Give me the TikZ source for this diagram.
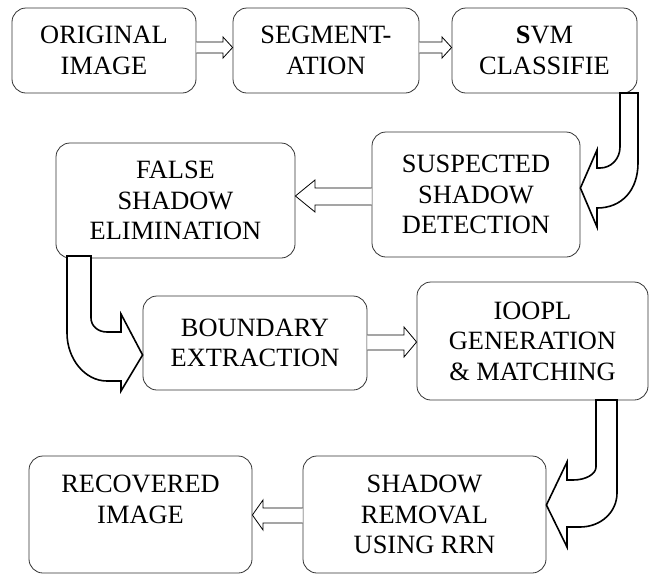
\documentclass[tikz,border=0pt]{standalone}
\usepackage{fontspec}
\setmainfont{Liberation Serif}
\begin{document}
\begin{tikzpicture}[x=1pt,y=-1pt,
  stage/.style={draw=black!80, line width=0.8pt, rounded corners=14pt,
    align=center, inner sep=0pt, font=\fontsize{26.4}{30.5}\selectfont},
  flatarrow/.style={draw=black, line width=0.8pt, fill=white, line join=miter},
  turnarrow/.style={draw=black, line width=1.6pt, fill=white, line join=miter}]
\useasboundingbox (0,0) rectangle (651,574);

% process stages
\node[stage, minimum width=184pt, minimum height=85pt] (orig) at (104,50.5) {ORIGINAL\\IMAGE};
\node[stage, minimum width=186pt, minimum height=85pt] (seg) at (326,50.5) {SEGMENT-\\ATION};
\node[stage, minimum width=185pt, minimum height=85pt] (svm) at (544.5,50.5) {\textbf{S}VM\\CLASSIFIE};
\node[stage, minimum width=208pt, minimum height=125pt] (susp) at (476,194.5) {SUSPECTED\\SHADOW\\DETECTION};
\node[stage, minimum width=239pt, minimum height=115pt] (false) at (175.5,200.5) {FALSE\\SHADOW\\ELIMINATION};
\node[stage, minimum width=224pt, minimum height=94pt] (bound) at (255,343) {BOUNDARY\\EXTRACTION};
\node[stage, minimum width=231pt, minimum height=118pt] (ioopl) at (532.5,341) {IOOPL\\GENERATION\\\&~MATCHING};
\node[stage, minimum width=223pt, minimum height=117pt] (recov) at (140.5,514.5) {RECOVERED\\IMAGE\\~};
\node[stage, minimum width=243pt, minimum height=117pt] (remov) at (424.5,514.5) {SHADOW\\REMOVAL\\USING RRN};

% straight block arrows
\draw[flatarrow] (orig.east |- 0,42) -- (223,42) -- (223,37) -- (seg.west |- 0,47.5)
  -- (223,58) -- (223,53) -- (orig.east |- 0,53);
\draw[flatarrow] (seg.east |- 0,42) -- (442,42) -- (442,37) -- (svm.west |- 0,47.5)
  -- (442,58) -- (442,53) -- (seg.east |- 0,53);
\draw[flatarrow] (susp.west |- 0,188) -- (315,188) -- (315,180) -- (false.east |- 0,196)
  -- (315,212) -- (315,205) -- (susp.west |- 0,205);
\draw[flatarrow] (bound.east |- 0,335) -- (404,335) -- (404,327) -- (ioopl.west |- 0,342)
  -- (404,357) -- (404,350) -- (bound.east |- 0,350);
\draw[flatarrow] (remov.west |- 0,508) -- (263,508) -- (263,500) -- (recov.east |- 0,515)
  -- (263,530) -- (263,523) -- (remov.west |- 0,523);

% U-turn block arrows between rows
\draw[turnarrow] (620,93) -- (620,147) .. controls (620,159) and (611,168) .. (600,168)
  -- (597,168) -- (597,150) -- (susp.east |- 0,188) -- (597,227) -- (597,208)
  .. controls (622,208) and (638,190) .. (638,163) -- (638,93) -- cycle;
\draw[turnarrow] (67,256) -- (67,333) .. controls (67,359) and (85,381) .. (107,381)
  -- (121,381) -- (121,391) -- (bound.west |- 0,355) -- (121,314) -- (121,332)
  -- (107,332) .. controls (98,332) and (91,326) .. (91,318) -- (91,256) -- cycle;
\draw[turnarrow] (596,400) -- (596,467) .. controls (596,474) and (586,480) .. (573,480)
  -- (567,480) -- (567,462) -- (remov.east |- 0,505) -- (567,547) -- (567,527)
  -- (580,527) .. controls (601,527) and (617,512) .. (617,493) -- (617,400) -- cycle;
\end{tikzpicture}
\end{document}
